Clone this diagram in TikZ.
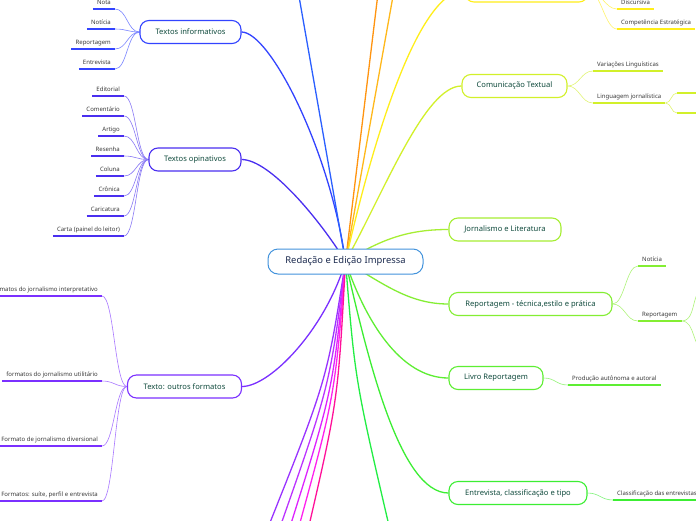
\documentclass[tikz,border=0pt]{standalone}
\usepackage{fontspec}
\setmainfont{Noto Sans}
\usepackage{tikz}
\usetikzlibrary{backgrounds}
\definecolor{bleuRacine}{HTML}{4393DC}
\definecolor{texteRacine}{HTML}{1C2B4F}
\definecolor{texteBranche}{HTML}{0F4A3C}
\definecolor{texteFeuille}{HTML}{3A3A3A}
\definecolor{bleuInfo}{HTML}{3344FF}
\definecolor{bleuOpin}{HTML}{4A2FF0}
\definecolor{violetForm}{HTML}{7B30FF}
\definecolor{bleuHaut}{HTML}{2A5FFF}
\definecolor{orangeA}{HTML}{FF9410}
\definecolor{orangeB}{HTML}{FFB81A}
\definecolor{jaune}{HTML}{FFEE1A}
\definecolor{citron}{HTML}{D2F02A}
\definecolor{vertA}{HTML}{A6EE33}
\definecolor{vertB}{HTML}{84EE33}
\definecolor{vertC}{HTML}{5EEE33}
\definecolor{vertD}{HTML}{3CEE33}
\definecolor{vertE}{HTML}{22EE44}
\definecolor{rosA}{HTML}{9933FF}
\definecolor{rosB}{HTML}{BB33FF}
\definecolor{rosC}{HTML}{DD22FF}
\definecolor{rosD}{HTML}{FF22EE}
\definecolor{rosE}{HTML}{FF1199}

\tikzset{
  racine/.style={draw=bleuRacine, fill=white, line width=1pt, rounded corners=10pt,
    minimum height=25, minimum width=155, text=texteRacine, font=\fontsize{9.4}{11}\selectfont},
  branche/.style={draw=#1, fill=white, line width=1.1pt, rounded corners=9pt,
    minimum height=23, text=texteBranche, font=\fontsize{7.6}{9}\selectfont},
  feuille/.style={text=texteFeuille, font=\fontsize{6}{7}\selectfont, inner xsep=4pt,
    inner ysep=0pt, text height=4.5pt, text depth=4.5pt,
    append after command={(\tikzlastnode.south west) edge[draw=#1, line width=1.5pt] (\tikzlastnode.south east)}},
  lien/.style={draw=#1, line width=1.3pt},
  brin/.style={draw=#1!65, line width=.6pt},
  gauche/.style={out=180, in=0, out distance=12pt, in distance=12pt},
  droite/.style={out=0, in=180, out distance=12pt, in distance=12pt},
}

\begin{document}
\begin{tikzpicture}[x=1pt, y=-1pt]
\useasboundingbox (0,0) rectangle (696,520);
% noeud central
\node[racine] (racine) at (345.5,261.5) {Redação e Edição Impressa};
% branches a gauche
\node[branche=bleuInfo, minimum width=101] (info) at (190.5,32) {Textos informativos};
\node[branche=bleuOpin, minimum width=92] (opin) at (195,159.5) {Textos opinativos};
\node[branche=violetForm, minimum width=114] (form) at (184.5,386.5) {Texto: outros formatos};
% branches a droite
\node[branche=jaune, minimum width=123] (haut) at (526.5,-9.5) {};
\node[branche=citron, minimum width=105] (comm) at (514.5,86) {Comunicação Textual};
\node[branche=vertA, minimum width=112] (jorn) at (505,229.5) {Jornalismo e Literatura};
\node[branche=vertB, minimum width=163] (repo) at (530.5,304) {Reportagem - técnica,estilo e prática};
\node[branche=vertC, minimum width=94] (livro) at (496,378) {Livro Reportagem};
\node[branche=vertD, minimum width=138] (entr) at (518,493) {Entrevista, classificação e tipo};
% bouts hors cadre
\coordinate (hA) at (297,-15);
\coordinate (hB) at (379,-15);
\coordinate (hC) at (395,-15);
\coordinate (bE) at (390,530);
\coordinate (bA) at (267,530);
\coordinate (bB) at (279,530);
\coordinate (bC) at (289,530);
\coordinate (bD) at (298,530);
\coordinate (bF) at (308,530);
% feuilles : textos informativos
\node[feuille=bleuInfo, anchor=south east] (nota) at (115,9) {Nota};
\node[feuille=bleuInfo, anchor=south east] (noticia) at (115,29) {Notícia};
\node[feuille=bleuInfo, anchor=south east] (report) at (115,49) {Reportagem};
\node[feuille=bleuInfo, anchor=south east] (entrev) at (115,69) {Entrevista};
% feuilles : textos opinativos
\node[feuille=bleuOpin, anchor=south east] (edit) at (124,96) {Editorial};
\node[feuille=bleuOpin, anchor=south east] (coment) at (124,116) {Comentário};
\node[feuille=bleuOpin, anchor=south east] (artigo) at (124,136) {Artigo};
\node[feuille=bleuOpin, anchor=south east] (resenha) at (124,156) {Resenha};
\node[feuille=bleuOpin, anchor=south east] (coluna) at (124,176) {Coluna};
\node[feuille=bleuOpin, anchor=south east] (cronica) at (124,196) {Crônica};
\node[feuille=bleuOpin, anchor=south east] (caric) at (124,216) {Caricatura};
\node[feuille=bleuOpin, anchor=south east] (carta) at (124,236) {Carta (painel do leitor)};
% feuilles : outros formatos
\node[feuille=violetForm, anchor=south east] (interp) at (102,296) {Formatos do jornalismo interpretativo};
\node[feuille=violetForm, anchor=south east] (util) at (102,381) {formatos do jornalismo utilitário};
\node[feuille=violetForm, anchor=south east] (divers) at (102,446) {Formato de jornalismo diversional};
\node[feuille=violetForm, anchor=south east] (suite) at (102,501) {Formatos: suíte, perfil e entrevista};
% feuilles a droite
\node[feuille=jaune, anchor=south west] (disc) at (617,9) {Discursiva};
\node[feuille=jaune, anchor=south west] (compet) at (617,29) {Competência Estratégica};
\node[feuille=citron, anchor=south west] (variac) at (593,71) {Variações Linguísticas};
\node[feuille=citron, anchor=south west] (lingj) at (593,103) {Linguagem jornalística};
\coordinate (lingA) at (677,93);
\coordinate (lingB) at (677,113);
\node[feuille=vertB, anchor=south west] (notic2) at (638,266) {Notícia};
\node[feuille=vertB, anchor=south west] (repo2) at (638,321) {Reportagem};
\coordinate (repA) at (706,288);
\coordinate (repB) at (706,350);
\node[feuille=vertC, anchor=south west] (prod) at (568,385) {Produção autônoma e autoral};
\node[feuille=vertD, anchor=south west] (classif) at (613,500) {Classificação das entrevistas};

\begin{scope}[on background layer]
% fond blanc
\fill[white] (0,0) rectangle (696,520);
% liens du centre
\draw[lien=bleuInfo] (racine.center) .. controls (330,150) and (270,32) .. (info.east);
\draw[lien=bleuOpin] (racine.center) .. controls (320,220) and (270,159.5) .. (opin.east);
\draw[lien=violetForm] (racine.center) .. controls (325,330) and (270,386.5) .. (form.east);
\draw[lien=bleuHaut] (racine.center) -- (hA);
\draw[lien=orangeA] (racine.center) -- (hB);
\draw[lien=orangeB] (racine.center) -- (hC);
\draw[lien=jaune] (racine.center) .. controls (375,130) and (420,-9.5) .. (haut.west);
\draw[lien=citron] (racine.center) .. controls (385,190) and (425,86) .. (comm.west);
\draw[lien=vertA] (racine.center) .. controls (383,238) and (410,229.5) .. (jorn.west);
\draw[lien=vertB] (racine.center) .. controls (385,285) and (410,304) .. (repo.west);
\draw[lien=vertC] (racine.center) .. controls (365,320) and (400,378) .. (livro.west);
\draw[lien=vertD] (racine.center) .. controls (368,360) and (400,493) .. (entr.west);
\draw[lien=vertE] (racine.center) .. controls (355,380) .. (bE);
\draw[lien=rosA] (racine.center) .. controls (327,380) .. (bA);
\draw[lien=rosB] (racine.center) .. controls (330,385) .. (bB);
\draw[lien=rosC] (racine.center) .. controls (333,390) .. (bC);
\draw[lien=rosD] (racine.center) .. controls (335,395) .. (bD);
\draw[lien=rosE] (racine.center) .. controls (338,400) .. (bF);
% brins vers les feuilles
\draw[brin=bleuInfo] (info.west) to[gauche] (nota.south east);
\draw[brin=bleuInfo] (info.west) to[gauche] (noticia.south east);
\draw[brin=bleuInfo] (info.west) to[gauche] (report.south east);
\draw[brin=bleuInfo] (info.west) to[gauche] (entrev.south east);
\draw[brin=bleuOpin] (opin.west) to[gauche] (edit.south east);
\draw[brin=bleuOpin] (opin.west) to[gauche] (coment.south east);
\draw[brin=bleuOpin] (opin.west) to[gauche] (artigo.south east);
\draw[brin=bleuOpin] (opin.west) to[gauche] (resenha.south east);
\draw[brin=bleuOpin] (opin.west) to[gauche] (coluna.south east);
\draw[brin=bleuOpin] (opin.west) to[gauche] (cronica.south east);
\draw[brin=bleuOpin] (opin.west) to[gauche] (caric.south east);
\draw[brin=bleuOpin] (opin.west) to[gauche] (carta.south east);
\draw[brin=violetForm] (form.west) to[gauche] (interp.south east);
\draw[brin=violetForm] (form.west) to[gauche] (util.south east);
\draw[brin=violetForm] (form.west) to[gauche] (divers.south east);
\draw[brin=violetForm] (form.west) to[gauche] (suite.south east);
\draw[brin=jaune] (haut.east) to[droite] (disc.south west);
\draw[brin=jaune] (haut.east) to[droite] (compet.south west);
\draw[brin=citron] (comm.east) to[droite] (variac.south west);
\draw[brin=citron] (comm.east) to[droite] (lingj.south west);
\draw[brin=citron] (lingj.south east) to[out=0, in=180] (lingA);
\draw[brin=citron] (lingj.south east) to[out=0, in=180] (lingB);
\draw[draw=citron, line width=1.5pt] (lingA) -- ++(25,0);
\draw[draw=citron, line width=1.5pt] (lingB) -- ++(25,0);
\draw[brin=vertB] (repo.east) to[droite] (notic2.south west);
\draw[brin=vertB] (repo.east) to[droite] (repo2.south west);
\draw[brin=vertB] (repo2.south east) to[out=0, in=180] (repA);
\draw[brin=vertB] (repo2.south east) to[out=0, in=180] (repB);
\draw[brin=vertC] (livro.east) to[droite] (prod.south west);
\draw[brin=vertD] (entr.east) to[droite] (classif.south west);
\end{scope}
\end{tikzpicture}
\end{document}
